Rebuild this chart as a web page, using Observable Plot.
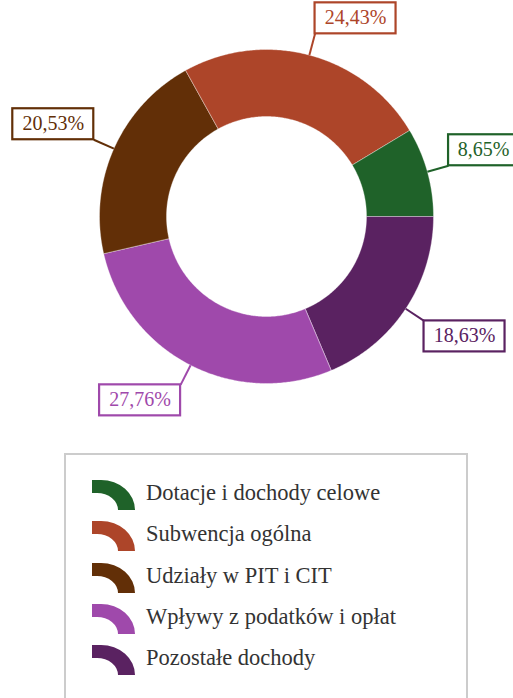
<!DOCTYPE html>
<html>
<head>
<meta charset="utf-8">
<script src="https://cdn.jsdelivr.net/npm/d3@7"></script>
<script src="https://cdn.jsdelivr.net/npm/@observablehq/plot@0.6"></script>
<style>
  html, body { margin: 0; padding: 0; background: #fff; overflow: hidden; }
  #chart { position: absolute; left: 0; top: 0; }
  #legend {
    position: absolute; left: 64px; top: 453px; width: 404px; height: 262px;
    border: 2px solid #cccccc; box-sizing: border-box; background: #fff;
  }
  .row { position: absolute; left: 0; height: 32px; }
  .row svg { position: absolute; left: 26px; top: 0; }
  .row span {
    position: absolute; left: 80px; top: -3px; white-space: nowrap;
    font-family: "Liberation Serif", "Liberation Sans", Arial, sans-serif;
    font-size: 22.5px;
    color: #333333; line-height: 32px;
  }
</style>
</head>
<body>
<div id="chart"></div>
<div id="legend"></div>
<script>
// ---- data ----
const categories = [
  "Dotacje i dochody celowe",
  "Subwencja ogólna",
  "Udziały w PIT i CIT",
  "Wpływy z podatków i opłat",
  "Pozostałe dochody"
];
const shares = [8.65, 24.43, 20.53, 27.76, 18.63];
const colors = ["#1f6229", "#ad4529", "#622f07", "#9f49ab", "#5a2261"];

const FONT = '"Liberation Serif", "Liberation Sans", Arial, sans-serif';

// ---- layout ----
const W = 513, H = 440;
const cx = 266, cy = 216;     // donut centre in px
const R = 167, r = 100;       // outer / inner radius
const leader = 22;            // leader line length
const boxH = 31;

const total = d3.sum(shares);
let acc = 0;
const slices = shares.map((v, i) => {
  const a0 = acc / total * 2 * Math.PI;
  acc += v;
  const a1 = acc / total * 2 * Math.PI;
  const m = (a0 + a1) / 2;
  const label = v.toFixed(2).replace(".", ",") + "%";
  const tw = label.length === 6 ? 68 : 57;
  const boxW = tw + 13;
  const ex = (R + leader) * Math.cos(m), ey = (R + leader) * Math.sin(m);
  const right = Math.cos(m) >= 0, up = Math.sin(m) >= 0;
  const x1 = right ? ex : ex - boxW, x2 = right ? ex + boxW : ex;
  const y1 = up ? ey : ey - boxH, y2 = up ? ey + boxH : ey;
  return {cat: categories[i], color: colors[i], a0, a1, m, label,
          lx1: R * Math.cos(m), ly1: R * Math.sin(m), lx2: ex, ly2: ey,
          x1, x2, y1, y2, tx: (x1 + x2) / 2, ty: (y1 + y2) / 2};
});

function ringPoints(s) {
  const pts = [];
  const n = Math.max(8, Math.ceil((s.a1 - s.a0) / (Math.PI / 360)));
  for (let k = 0; k <= n; k++) {
    const a = s.a0 + (s.a1 - s.a0) * k / n;
    pts.push({x: R * Math.cos(a), y: R * Math.sin(a)});
  }
  for (let k = n; k >= 0; k--) {
    const a = s.a0 + (s.a1 - s.a0) * k / n;
    pts.push({x: r * Math.cos(a), y: r * Math.sin(a)});
  }
  return pts;
}

const marks = [];
slices.forEach(s => {
  marks.push(Plot.line(ringPoints(s), {
    x: "x", y: "y", curve: "linear-closed",
    fill: s.color, stroke: "#ffffff", strokeOpacity: 0.35, strokeWidth: 1
  }));
});
marks.push(Plot.link(slices, {
  x1: "lx1", y1: "ly1", x2: "lx2", y2: "ly2",
  stroke: d => d.color, strokeWidth: 2
}));
marks.push(Plot.rect(slices, {
  x1: "x1", x2: "x2", y1: "y1", y2: "y2",
  fill: "#ffffff", stroke: d => d.color, strokeWidth: 2.2
}));
marks.push(Plot.text(slices, {
  x: "tx", y: "ty", text: "label", fill: d => d.color,
  fontSize: 20, fontFamily: FONT,
  textAnchor: "middle", lineAnchor: "middle", dy: -0.5
}));

const chart = Plot.plot({
  width: W, height: H,
  margin: 0,
  style: {background: "white", overflow: "visible", fontFamily: FONT},
  x: {domain: [-cx, W - cx], range: [0, W], axis: null},
  y: {domain: [-(H - cy), cy], range: [H, 0], axis: null},
  color: {type: "identity"},
  marks
});
document.getElementById("chart").appendChild(chart);

// ---- legend ----
const legend = d3.select("#legend");
// thick rounded-corner ring-segment icon
const iconPath = "M0,0 H9 A34,30 0 0 1 43,30 H26 A21,17 0 0 0 5,13 H0 Z";
const rowTops = categories.map((c, i) => 25 + i * 41.3);
categories.forEach((c, i) => {
  const row = legend.append("div").attr("class", "row").style("top", rowTops[i] + "px");
  const svg = row.append("svg").attr("width", 44).attr("height", 33);
  svg.append("path").attr("d", iconPath).attr("fill", colors[i]);
  row.append("span").text(c);
});
</script>
</body>
</html>
